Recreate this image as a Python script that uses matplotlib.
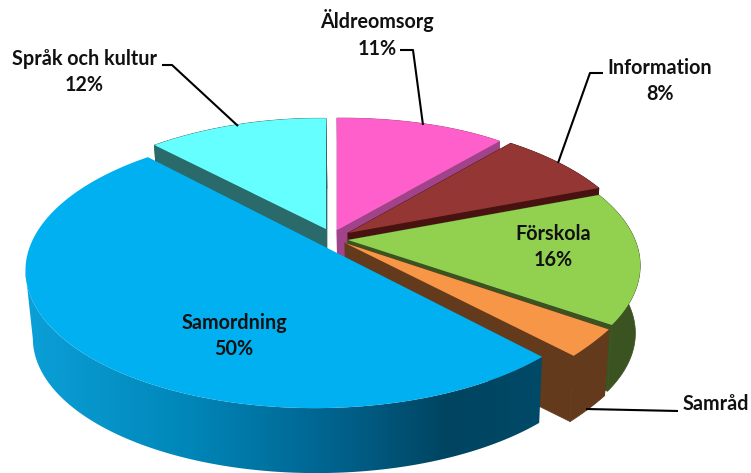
"""Exploded 3D-looking pie of budget shares, drawn with plain polygons."""

import matplotlib
matplotlib.use("Agg")

import matplotlib.pyplot as plt
import numpy as np
from matplotlib.colors import LinearSegmentedColormap
from matplotlib.patches import Polygon

labels = ["Äldreomsorg", "Information", "Förskola", "Samråd", "Samordning", "Språk och kultur"]
values = [11, 8, 16, 3, 50, 12]

top_colors = ["#ff5fcb", "#943634", "#92d050", "#f79646", "#00b0f0", "#66ffff"]
side_colors = ["#a0438a", "#471210", "#3b5320", "#643a1c", None, "#2a6a6a"]

# where each slice's tip ends up on the picture, and how much it is stretched
# (start of slice, end of slice)
apex_xy = [(337, 230), (348, 233), (348, 240), (345, 243), (345, 257), (326, 229)]
stretch_x = [(1.0, 1.0), (1.0, 1.05), (1.05, 1.16), (1.16, 1.16), (1.0, 1.0), (0.87, 0.87)]
stretch_y = [(0.89, 0.95), (0.96, 1.0), (1.0, 1.08), (1.1, 1.13), (1.0, 1.0), (0.84, 0.88)]

label_xy = [(377, 34), (660, 81), (553, 247), (716, 404), (234, 336), (84, 72)]
show_pct = [True, True, True, False, True, True]
leaders = [
    [(400, 50), (413, 50), (423, 125)],
    [(603, 73), (590, 73), (558, 163)],
    [(586, 409), (678, 411)],
    [(162, 65), (172, 65), (238, 126)],
]

RX, RY, K = 288, 137, 0.13
DEPTH_DX, DEPTH_DY, DEPTH_SCALE = 1, 68, 0.98
draw_order = [5, 0, 1, 2, 3, 4]

rim_cmap = LinearSegmentedColormap.from_list(
    "rim",
    [(0.0, "#0ba0d8"), (0.32, "#0086b8"), (0.62, "#00608a"), (0.82, "#004460"), (1.0, "#004a68")],
)


def project(theta, i, drop=False):
    X, Y = np.sin(theta), np.cos(theta)
    d = 1 + K * (0.729 * X + 0.684 * Y)
    t = np.linspace(0, 1, len(theta))
    sx = stretch_x[i][0] + (stretch_x[i][1] - stretch_x[i][0]) * t
    sy = stretch_y[i][0] + (stretch_y[i][1] - stretch_y[i][0]) * t
    x = RX * sx * X / d
    y = -RY * sy * Y / d
    ax0, ay0 = apex_xy[i]
    if drop:
        return np.column_stack([ax0 + DEPTH_DX + DEPTH_SCALE * x, ay0 + DEPTH_DY + DEPTH_SCALE * y])
    return np.column_stack([ax0 + x, ay0 + y])


fig = plt.figure(figsize=(7.51, 4.73), dpi=100)
ax = fig.add_axes([0, 0, 1, 1])

edges = np.cumsum([0] + values) / sum(values) * 2 * np.pi

for i in draw_order:
    th = np.linspace(edges[i], edges[i + 1], 160)
    top = project(th, i)
    low = project(th, i, drop=True)
    apex_top = np.array(apex_xy[i], dtype=float)
    apex_low = apex_top + [DEPTH_DX, DEPTH_DY]

    if side_colors[i] is not None:
        # the two cut faces, then the rim
        c = side_colors[i]
        for end_top, end_low in [(top[0], low[0]), (top[-1], low[-1])]:
            ax.add_patch(Polygon([apex_top, end_top, end_low, apex_low],
                                 facecolor=c, edgecolor=c, lw=0.5))
        ax.add_patch(Polygon(np.vstack([top, low[::-1]]), facecolor=c, edgecolor=c, lw=0.5))
    else:
        # only the part of the rim up to the leftmost point shows
        m = np.argmin(top[:, 0]) + 1
        rim = Polygon(np.vstack([top[:m], low[:m][::-1]]), facecolor="none", lw=0)
        ax.add_patch(rim)
        x0, x1 = top[:, 0].min(), top[:, 0].max()
        shade = np.linspace(0, 1, 256).reshape(1, -1)
        im = ax.imshow(shade, cmap=rim_cmap, extent=(x0, x1, 473, 0), aspect="auto", zorder=1)
        im.set_clip_path(rim)

    ax.add_patch(Polygon(np.vstack([apex_top, top]), facecolor=top_colors[i], lw=0,
                         zorder=2 if side_colors[i] is None else 1))

ax.set_xlim(0, 751)
ax.set_ylim(473, 0)
ax.axis("off")

for pts in leaders:
    xs, ys = zip(*pts)
    ax.plot(xs, ys, color="black", lw=1.5, solid_capstyle="butt", zorder=3)

for i, name in enumerate(labels):
    txt = f"{name}\n{values[i]}%" if show_pct[i] else name
    ax.text(label_xy[i][0], label_xy[i][1], txt, ha="center", va="center", zorder=4,
            family="Lato", fontweight="bold", fontsize=14.2, color="#111111", linespacing=1.42)

fig.savefig("out.png", dpi=100)
